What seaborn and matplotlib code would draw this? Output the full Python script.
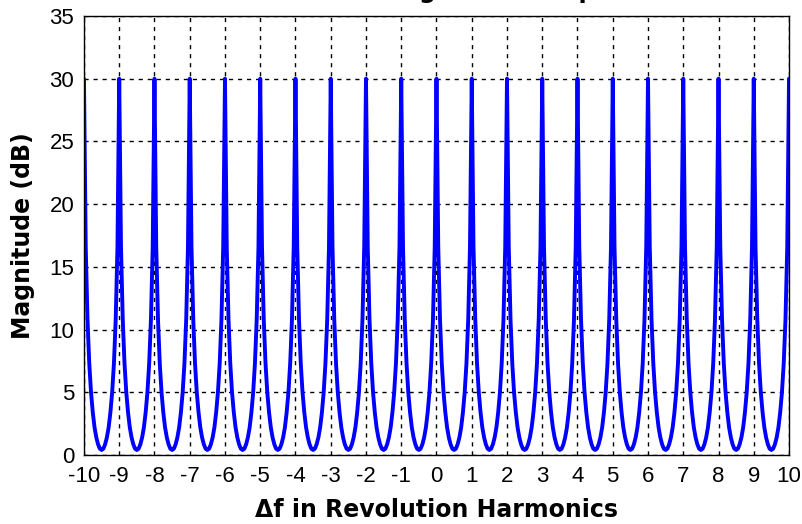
import numpy as np
import pandas as pd
import matplotlib
matplotlib.use("Agg")
import matplotlib.pyplot as plt
import seaborn as sns

# harmonic positions (peaks of the comb) and tick labels
harmonics = list(range(-10, 11))
y_ticks = [0, 5, 10, 15, 20, 25, 30, 35]

# one period of the response (offset from peak, dB)
period_offset = [0.00, 0.05, 0.10, 0.15, 0.20, 0.25, 0.30, 0.35, 0.40, 0.45,
                 0.50, 0.55, 0.60, 0.65, 0.70, 0.75, 0.80, 0.85, 0.90, 0.95]
period_db = [30.0, 16.6, 10.8, 7.3, 5.0, 3.4, 2.2, 1.4, 0.85, 0.5,
             0.4, 0.5, 0.85, 1.4, 2.2, 3.4, 5.0, 7.3, 10.8, 16.6]

xs, ys = [], []
for h in harmonics[:-1]:
    for off, db in zip(period_offset, period_db):
        xs.append(h + off)
        ys.append(db)
xs.append(harmonics[-1])
ys.append(period_db[0])
df = pd.DataFrame({"df": xs, "mag": ys})

sns.set_style("white")
plt.rcParams["font.family"] = ["Liberation Sans", "DejaVu Sans"]
plt.rcParams["text.color"] = "black"
plt.rcParams["axes.labelcolor"] = "black"

fig = plt.figure(figsize=(8.02, 5.24), dpi=100)
ax = fig.add_axes([0.1047, 0.1317, 0.8791, 0.8378])

sns.lineplot(data=df, x="df", y="mag", ax=ax, color="#0000ff", linewidth=2.8,
             estimator=None, sort=False)

ax.set_xlim(-10, 10)
ax.set_ylim(0, 35)
ax.set_xticks(harmonics)
ax.set_yticks(y_ticks)
ax.set_xticklabels([str(h) for h in harmonics])
ax.tick_params(direction="in", length=5, width=1, labelsize=16,
               colors="black", labelcolor="black")
ax.tick_params(axis="x", pad=8)
ax.tick_params(axis="y", pad=7)
ax.grid(True, color="black", linestyle=(0, (3, 3.5)), linewidth=1)
for s in ax.spines.values():
    s.set_color("black")
    s.set_linewidth(1)
    s.set_visible(True)

ax.set_xlabel("\u0394f in Revolution Harmonics", fontsize=17, fontweight="bold",
              family="DejaVu Sans", color="black", labelpad=8)
ax.set_ylabel("Magnitude (dB)", fontsize=17, fontweight="bold",
              family="DejaVu Sans", color="black", labelpad=10)

# title sits above the top edge, only its descenders show as in the original
fig.text(0.544, 1.0 + 2 / 524, "Notch Filter Magnitude Response", fontsize=17,
         fontweight="bold", family="DejaVu Sans", color="black",
         ha="center", va="baseline")

fig.savefig("out.png", dpi=100)
